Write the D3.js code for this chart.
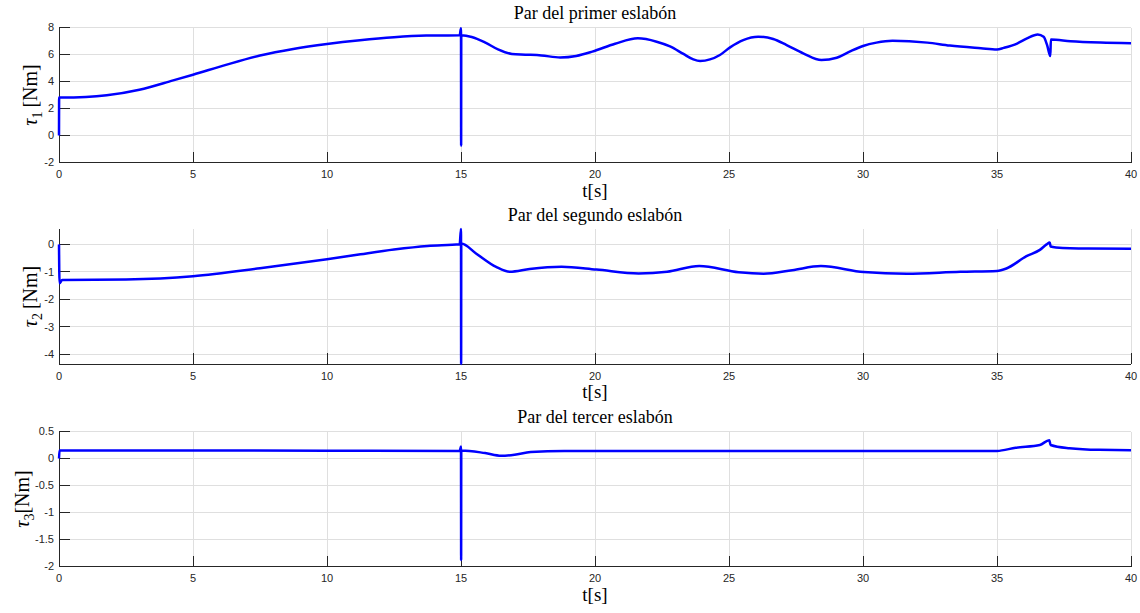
<html>
<head>
    <title>Pares de los eslabones</title>
    <script src="https://d3js.org/d3.v7.min.js" charSet="utf-8"></script>
    <style>
        body { margin: 0; background: white; }

        /* tick labels, same grey as the axis lines */
        .tick-label {
            font-family: "Liberation Sans", Arial, sans-serif;
            font-size: 11px;
            fill: #262626;
        }

        /* LaTeX-like labels and titles */
        .serif {
            font-family: "Liberation Serif", "Times New Roman", serif;
            fill: #000;
        }

        .grid line { stroke: #dfdfdf; stroke-width: 1; shape-rendering: crispEdges; }
        .axis line { stroke: #262626; stroke-width: 1; shape-rendering: crispEdges; }
        .trace { fill: none; stroke: #0000ff; stroke-width: 2.5; stroke-linejoin: round; }
    </style>
</head>
<body>
<div id="vis_container"></div>

<script>
    // torque of link 1
    let t1 = [0, 0.005, 0.1, 1.0, 1.78, 3.0, 4.26, 5, 6.26, 7.5, 8.74, 10, 11.23, 12.5, 13.7, 14.95,
        15.0, 15.005, 15.01, 15.4, 15.93, 16.4, 16.9, 17.4, 18.0, 18.7, 19.3, 19.9, 20.75, 21.6,
        22.3, 22.8, 23.3, 23.67, 23.92, 24.66, 25.04, 25.53, 26.09, 26.65, 27.15, 27.77, 28.45,
        29.02, 29.5, 30.0, 30.5, 31.1, 32.4, 33.24, 34.4, 35.0, 35.25, 35.75, 36.12, 36.52,
        36.74, 36.87, 36.99, 37.01, 37.74, 38.86, 40];
    let tau1 = [0, 2.82, 2.82, 2.86, 2.98, 3.39, 4.08, 4.5, 5.25, 5.92, 6.41, 6.78, 7.06, 7.28, 7.4, 7.43,
        7.95, -0.75, 7.42, 7.3, 6.86, 6.36, 6.04, 5.99, 5.93, 5.78, 5.89, 6.21, 6.8, 7.2,
        6.95, 6.6, 6.04, 5.64, 5.52, 5.96, 6.53, 7.07, 7.32, 7.15, 6.7, 6.09, 5.59,
        5.76, 6.21, 6.63, 6.88, 7.02, 6.88, 6.66, 6.46, 6.37, 6.49, 6.81, 7.19, 7.48,
        7.31, 6.69, 5.88, 7.11, 6.99, 6.89, 6.84];

    // torque of link 2
    let t2 = [0, 0.02, 0.12, 2.5, 5, 7.5, 10, 11.25, 12.5, 13.75, 14.95,
        15.0, 15.005, 15.01, 15.56, 16.31, 16.82, 17.56, 18.75, 20.05, 21.63, 22.69, 23.89,
        25.36, 26.29, 27.36, 28.43, 30.03, 31.63, 33.63, 35.0, 35.35, 36.1, 36.6, 36.85,
        36.97, 37.0, 37.2, 38.4, 40];
    let tau2 = [0, -1.42, -1.3, -1.28, -1.16, -0.87, -0.54, -0.36, -0.19, -0.06, 0.0,
        0.56, -4.36, 0.03, -0.33, -0.82, -1.0, -0.9, -0.82, -0.92, -1.06, -1.0, -0.79,
        -1.02, -1.07, -0.94, -0.79, -1.01, -1.07, -1.0, -0.97, -0.88, -0.43, -0.2, 0.0,
        0.07, -0.08, -0.11, -0.15, -0.16];

    // torque of link 3
    let t3 = [0, 0.02, 5, 10, 14.95, 15.0, 15.005, 15.01, 15.9, 16.5, 17.0, 17.6, 18.85, 25,
        35.0, 35.7, 36.6, 36.95, 37.0, 37.7, 38.8, 40];
    let tau3 = [0, 0.15, 0.15, 0.145, 0.14, 0.22, -1.88, 0.15, 0.10, 0.05, 0.07, 0.12, 0.14, 0.14,
        0.14, 0.20, 0.25, 0.34, 0.25, 0.19, 0.16, 0.155];

    let xTicks = [0, 5, 10, 15, 20, 25, 30, 35, 40];
    let yTicks1 = [-2, 0, 2, 4, 6, 8];
    let yTicks2 = [-4, -3, -2, -1, 0];
    let yTicks3 = [-2, -1.5, -1, -0.5, 0, 0.5];

    let titles = ["Par del primer eslabón", "Par del segundo eslabón", "Par del tercer eslabón"];

    // canvas and the three axes boxes
    const width = 1140, height = 613;
    const left = 59, right = 1131, boxH = 135;

    let svg = d3.select("#vis_container")
        .append("svg")
        .attr("width", width)
        .attr("height", height);

    let x = d3.scaleLinear().domain([0, 40]).range([left, right]);

    let panels = [
        {top: 27.5, domain: [-2, 8], ticks: yTicks1, t: t1, v: tau1, title: titles[0], sub: "1", gap: true, labelX: 37},
        {top: 229, domain: [-4.36, 0.56], ticks: yTicks2, t: t2, v: tau2, title: titles[1], sub: "2", gap: true, labelX: 37},
        {top: 431.5, domain: [-2, 0.5], ticks: yTicks3, t: t3, v: tau3, title: titles[2], sub: "3", gap: false, labelX: 29}
    ];

    // MATLAB style labels use a plain hyphen for negatives
    let fmt = function(d) { return String(d).replace("\u2212", "-"); };
    const tickLen = 10.7;

    panels.forEach(function(p) {
        let bottom = p.top + boxH;
        let y = d3.scaleLinear().domain(p.domain).range([bottom, p.top]);
        let g = svg.append("g");

        // grid
        let grid = g.append("g").attr("class", "grid");
        grid.selectAll(".gx").data(xTicks).enter().append("line")
            .attr("x1", d => x(d)).attr("x2", d => x(d))
            .attr("y1", p.top).attr("y2", bottom);
        grid.selectAll(".gy").data(p.ticks).enter().append("line")
            .attr("x1", left).attr("x2", right)
            .attr("y1", d => y(d)).attr("y2", d => y(d));

        // axes lines and inward ticks
        let ax = g.append("g").attr("class", "axis");
        ax.append("line").attr("x1", left).attr("x2", right).attr("y1", bottom).attr("y2", bottom);
        ax.append("line").attr("x1", left).attr("x2", left).attr("y1", p.top).attr("y2", bottom);
        ax.selectAll(".tx").data(xTicks).enter().append("line")
            .attr("x1", d => x(d)).attr("x2", d => x(d))
            .attr("y1", bottom).attr("y2", bottom - tickLen);
        ax.selectAll(".ty").data(p.ticks).enter().append("line")
            .attr("x1", left).attr("x2", left + tickLen)
            .attr("y1", d => y(d)).attr("y2", d => y(d));

        // tick labels
        g.selectAll(".lx").data(xTicks).enter().append("text")
            .attr("class", "tick-label")
            .attr("x", d => x(d))
            .attr("y", bottom + 15.5)
            .style("text-anchor", "middle")
            .text(d => fmt(d));
        g.selectAll(".ly").data(p.ticks).enter().append("text")
            .attr("class", "tick-label")
            .attr("x", left - 5)
            .attr("y", d => y(d))
            .attr("dy", "0.36em")
            .style("text-anchor", "end")
            .text(d => fmt(d));

        // the torque trace
        let line = d3.line()
            .x((d, i) => x(p.t[i]))
            .y(d => y(d))
            .curve(d3.curveMonotoneX);
        g.append("path")
            .attr("class", "trace")
            .attr("d", line(p.v));

        // title
        g.append("text")
            .attr("class", "serif")
            .attr("x", (left + right) / 2)
            .attr("y", p.top - 8.5)
            .style("font-size", "18px")
            .style("text-anchor", "middle")
            .text(p.title);

        // x label
        g.append("text")
            .attr("class", "serif")
            .attr("x", (left + right) / 2)
            .attr("y", bottom + 34)
            .style("font-size", "19px")
            .style("text-anchor", "middle")
            .text("t[s]");

        // y label with subscript
        let yl = g.append("text")
            .attr("class", "serif")
            .attr("transform", "translate(" + p.labelX + "," + (p.top + boxH / 2) + ") rotate(-90)")
            .style("font-size", "20px")
            .style("text-anchor", "middle");
        yl.append("tspan").style("font-style", "italic").text("\u03c4");
        yl.append("tspan").attr("dy", 5).style("font-size", "14px").text(p.sub);
        yl.append("tspan").attr("dy", -5).text(p.gap ? "\u2009[Nm]" : "[Nm]");
    });
</script>
</body>
</html>
